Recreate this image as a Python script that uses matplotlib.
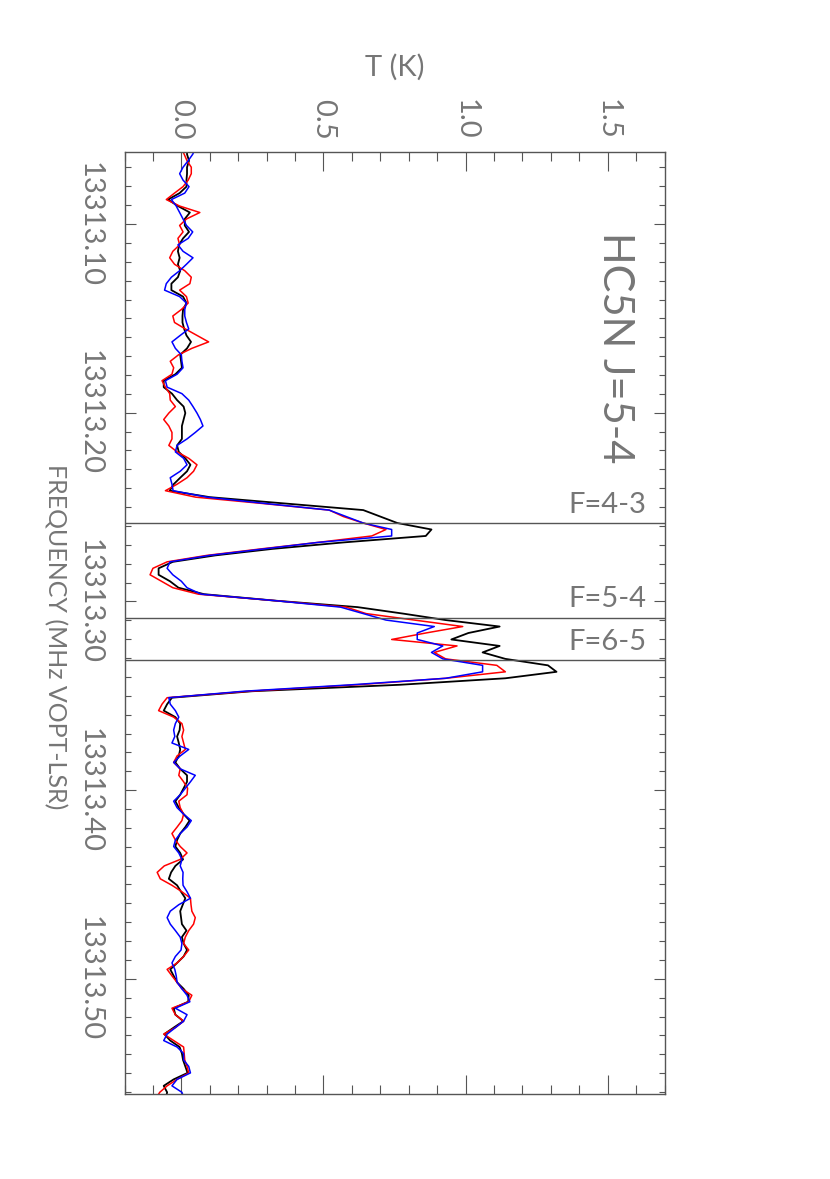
"""HC5N J=5-4 hyperfine spectrum, drawn in the rotated (landscape-on-portrait) layout."""

import numpy as np
import matplotlib
matplotlib.use('Agg')
import matplotlib.pyplot as plt
from matplotlib.ticker import MultipleLocator

# ============================================================================
# DATA
# ============================================================================

# channel grid of the spectra (MHz)
chan_start = 13313.05958
chan_width = 0.0034287

# antenna temperature (K) of the three spectra, one value per channel
t_black = [
    0.020, 0.020, 0.027, 0.020, 0.020, 0.018, 0.018, -0.006, -0.047, -0.012,
    0.030, 0.012, 0.012, 0.027, 0.006, -0.008, -0.012, -0.006, -0.012, -0.004,
    -0.012, -0.035, -0.035, 0.006, 0.018, 0.006, 0.004, 0.004, 0.010, 0.018,
    0.034, 0.020, -0.004, -0.001, 0.002, -0.021, -0.062, -0.062, -0.033, -0.015,
    0.008, 0.014, 0.008, 0.002, 0.002, 0.002, -0.015, -0.009, 0.014, 0.032,
    0.020, -0.004, -0.027, -0.041, 0.100, 0.370, 0.640, 0.700, 0.760, 0.880,
    0.860, 0.570, 0.320, 0.120, -0.030, -0.080, -0.080, -0.040, -0.010, 0.080,
    0.330, 0.620, 0.780, 0.930, 1.120, 1.010, 0.950, 1.120, 1.060, 1.140,
    1.290, 1.320, 1.140, 0.770, 0.250, -0.033, -0.050, -0.062, -0.021, -0.004,
    -0.006, -0.015, -0.009, -0.004, -0.009, -0.021, -0.004, 0.020, 0.020, 0.008,
    -0.004, -0.021, -0.009, 0.008, 0.029, 0.014, -0.004, -0.015, -0.021, -0.004,
    0.006, -0.021, -0.036, -0.044, -0.015, -0.001, 0.014, 0.005, -0.004, -0.001,
    0.002, 0.018, 0.002, 0.008, 0.020, 0.008, -0.015, -0.039, -0.027, -0.015,
    0.008, 0.026, 0.024, -0.027, -0.021, 0.007, -0.027, -0.060, -0.039, -0.006,
    0.002, 0.006, 0.014, 0.022, -0.027, -0.062, -0.050, -0.055,
]

t_red = [
    0.000, 0.010, 0.020, 0.035, 0.035, 0.024, 0.006, -0.024, -0.053, -0.006,
    0.065, 0.018, -0.006, 0.006, -0.012, -0.006, -0.030, -0.041, -0.024, 0.012,
    0.035, 0.030, -0.006, 0.018, 0.024, 0.000, -0.030, -0.024, 0.014, 0.055,
    0.096, 0.037, -0.010, -0.039, -0.027, -0.033, -0.068, -0.056, -0.041, -0.039,
    -0.021, -0.044, -0.062, -0.044, -0.033, -0.033, -0.044, -0.015, 0.026, 0.055,
    0.043, 0.020, -0.015, -0.056, 0.050, 0.290, 0.520, 0.570, 0.640, 0.720,
    0.670, 0.480, 0.280, 0.090, -0.050, -0.100, -0.110, -0.070, -0.030, 0.060,
    0.330, 0.580, 0.650, 0.820, 0.990, 0.860, 0.740, 0.970, 0.890, 0.930,
    1.110, 1.140, 0.930, 0.620, 0.240, -0.050, -0.068, -0.080, -0.027, 0.002,
    0.008, 0.002, 0.008, 0.014, -0.015, -0.027, -0.004, -0.009, 0.008, 0.022,
    0.020, -0.009, -0.004, 0.008, 0.002, -0.015, -0.033, -0.021, -0.004, 0.020,
    -0.004, -0.060, -0.085, -0.074, -0.033, 0.002, 0.032, 0.034, 0.037, 0.049,
    0.043, 0.026, 0.014, 0.008, 0.026, 0.008, -0.015, -0.050, -0.033, -0.015,
    0.002, 0.037, 0.026, -0.033, -0.021, 0.008, -0.021, -0.062, -0.027, 0.008,
    0.010, 0.012, 0.020, 0.026, -0.015, -0.050, -0.076, -0.090,
]

t_blue = [
    0.050, 0.040, 0.024, 0.006, -0.006, 0.006, 0.027, 0.012, -0.035, -0.018,
    -0.006, 0.006, 0.018, 0.040, 0.024, -0.012, 0.006, 0.041, 0.018, -0.006,
    -0.035, -0.053, -0.059, -0.006, 0.018, 0.012, 0.012, 0.018, 0.026, -0.004,
    -0.033, -0.021, 0.000, 0.002, 0.006, -0.015, -0.056, -0.050, 0.002, 0.026,
    0.041, 0.055, 0.067, 0.076, 0.049, 0.020, -0.015, -0.021, 0.008, 0.020,
    -0.004, -0.039, -0.033, -0.029, 0.090, 0.300, 0.520, 0.580, 0.640, 0.740,
    0.740, 0.480, 0.290, 0.100, -0.040, -0.050, -0.030, 0.000, 0.020, 0.070,
    0.330, 0.560, 0.640, 0.720, 0.890, 0.830, 0.830, 0.920, 0.880, 0.920,
    1.060, 1.060, 0.930, 0.600, 0.220, -0.044, -0.039, -0.021, -0.009, -0.021,
    -0.027, -0.023, -0.033, 0.026, -0.004, -0.027, -0.004, 0.049, 0.032, 0.014,
    -0.004, -0.027, -0.015, 0.008, 0.035, 0.020, -0.004, -0.021, -0.027, -0.009,
    0.002, -0.004, 0.006, 0.005, 0.006, 0.020, 0.032, -0.009, -0.039, -0.050,
    -0.039, -0.021, -0.004, 0.002, -0.001, -0.021, -0.033, -0.023, -0.018, -0.015,
    0.002, 0.020, 0.030, -0.021, 0.020, 0.008, -0.021, -0.050, -0.062, -0.015,
    0.008, 0.008, 0.026, 0.032, -0.015, -0.033, 0.002, 0.010,
]

# hyperfine components (MHz)
hfs_freqs = [13313.2586, 13313.3086, 13313.3311]
hfs_labels = ['F=4-3', 'F=5-4', 'F=6-5']

# axis ticks
freq_ticks = [13313.10, 13313.20, 13313.30, 13313.40, 13313.50]
freq_tick_labels = ['13313.10', '13313.20', '13313.30', '13313.40', '13313.50']
temp_ticks = [0.0, 0.5, 1.0, 1.5]
temp_tick_labels = ['0.0', '0.5', '1.0', '1.5']

freq = chan_start + chan_width * np.arange(len(t_black))

# ============================================================================
# PLOT
# ============================================================================

plt.rcParams['font.family'] = ['Lato', 'DejaVu Sans']
plt.rcParams['font.weight'] = 'normal'

text_col = '#767676'
frame_col = '#555555'

fig = plt.figure(figsize=(8.3, 11.79), dpi=100)
ax = fig.add_axes([124.5 / 830, 1 - 1093.5 / 1179, 540 / 830, 941.5 / 1179])

ax.plot(t_black, freq, color='black', lw=1.3)
ax.plot(t_red, freq, color='red', lw=1.1)
ax.plot(t_blue, freq, color='blue', lw=1.1)

# hyperfine markers
for f, lab in zip(hfs_freqs, hfs_labels):
    ax.axhline(f, color=frame_col, lw=1.0)
    ax.annotate(lab, xy=(1.637, f), xytext=(0, 4), textcoords='offset points',
                ha='right', va='bottom', fontsize=21, color=text_col)

ax.text(1.525, 13313.1657, 'HC5N J=5-4', rotation=-90, ha='center', va='center',
        fontsize=30, color=text_col)

ax.set_xlim(-0.2, 1.7)
ax.set_ylim(13313.5608, 13313.0618)

ax.set_xticks(temp_ticks)
ax.set_xticklabels(temp_tick_labels, rotation=-90)
ax.xaxis.set_minor_locator(MultipleLocator(0.1))
ax.set_yticks(freq_ticks)
ax.set_yticklabels(freq_tick_labels, rotation=-90, va='center')
ax.yaxis.set_minor_locator(MultipleLocator(0.01))

ax.tick_params(axis='x', which='both', direction='in', top=True, bottom=True,
               labeltop=True, labelbottom=False, color=frame_col, width=0.8,
               labelsize=21, labelcolor=text_col, pad=9)
ax.tick_params(axis='x', which='major', length=13.7)
ax.tick_params(axis='x', which='minor', length=6.8)
ax.tick_params(axis='y', which='both', direction='in', left=True, right=True,
               color=frame_col, width=0.8, labelsize=21, labelcolor=text_col, pad=16)
ax.tick_params(axis='y', which='major', length=7.9)
ax.tick_params(axis='y', which='minor', length=4.0)

for sp in ax.spines.values():
    sp.set_color(frame_col)
    sp.set_linewidth(1.0)

fig.text(395 / 830, 1 - 67 / 1179, 'T (K)', ha='center', va='center',
         fontsize=21, color=text_col)
fig.text(55 / 830, 1 - 637 / 1179, 'FREQUENCY (MHz VOPT-LSR)', rotation=-90,
         ha='center', va='center', fontsize=18, color=text_col)

fig.savefig('out.png', dpi=100)
